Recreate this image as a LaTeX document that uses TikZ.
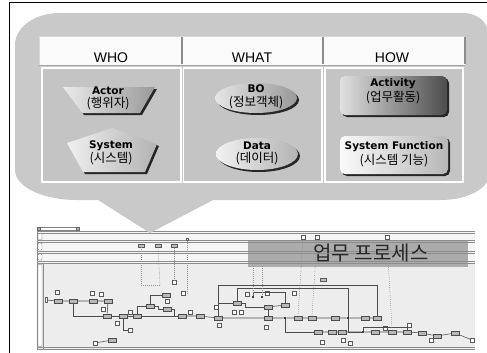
\documentclass[tikz,border=0pt]{standalone}
\usepackage{fontspec}
\setmainfont{DejaVu Sans}
\newfontfamily\hdr{Liberation Sans}
\newfontfamily\kr{Noto Sans CJK KR}
\begin{document}
\begin{tikzpicture}[x=1pt,y=-1pt,
  hd/.style={font=\hdr\fontsize{14}{14}\selectfont, inner sep=0pt},
  en/.style={font=\bfseries\fontsize{10.5}{11}\selectfont, inner sep=0pt},
  ko/.style={font=\kr\fontsize{12.5}{12.5}\selectfont, inner sep=0pt},
  cell/.style={draw=white, line width=1.4pt, fill=black!23},
  pb/.style={draw=black!70, fill=black!28, minimum width=8pt, minimum height=4.5pt, inner sep=0pt, line width=0.5pt},
  pd/.style={draw=black!65, fill=white, minimum width=4pt, minimum height=4pt, inner sep=0pt, line width=0.5pt},
  pdt/.style={circle, fill=black, minimum size=2.2pt, inner sep=0pt},
  tk/.style={draw=black!65, fill=black!25, minimum width=6pt, minimum height=3pt, inner sep=0pt, line width=0.4pt},
  pl/.style={draw=black!70, line width=0.55pt},
  dsh/.style={draw=black!45, line width=0.4pt, dash pattern=on 1pt off 1pt},
  ln/.style={draw=black!45, line width=0.6pt},
  lb/.style={draw=black!55, fill=white, rounded corners=0.8pt, minimum width=4pt, inner sep=0pt, line width=0.4pt}]
\useasboundingbox (0,0) rectangle (487,353);
\fill[white] (0,0) rectangle (487,353);
% ---------- process area ----------
\fill[black!4] (37,231) rectangle (475,263);
\fill[black!7] (37,263) rectangle (475,349);
\fill[black!33] (248,240) rectangle (468,267);
\foreach \yy in {231,233,240,242,251,253,261,263,347,349}
  \draw[ln] (37,\yy) -- (475,\yy);
\draw[ln] (37,231) -- (37,349);
\draw[ln] (43,263) -- (43,349);
\node[draw=black!50, fill=white, minimum width=42pt, minimum height=3pt, inner sep=0pt, line width=0.4pt] (tab) at (58,228.5) {};
\node[draw=black!60, fill=black!30, minimum size=3pt, inner sep=0pt] (tabl) at (38.5,228.5) {};
\node[draw=black!60, fill=black!30, minimum size=3pt, inner sep=0pt] (tabr) at (77.5,228.5) {};
\node[lb, minimum height=6pt] (l1) at (40,236.5) {};
\node[lb, minimum height=7pt] (l2) at (40,246.5) {};
\node[lb, minimum height=6pt] (l3) at (40,257) {};
\node[lb, minimum height=82pt] (l4) at (40,305.5) {};
% top-lane items
\node[tk] (t1) at (141,245.5) {};
\node[tk] (t2) at (158,246) {};
\node[tk] (t3) at (174,246) {};
\node[draw=black!60, fill=white, minimum size=2pt, inner sep=0pt] (t4) at (187,239.5) {};
\node[pd] (u1) at (303,237) {};
\node[pd] (u2) at (317,237) {};
\node[pd] (u3) at (387,237) {};
% main lane nodes
\node[draw=black!60, fill=white, minimum width=2pt, minimum height=5pt, inner sep=0pt] (st) at (46,300) {};
\node[pb] (b1) at (58,301) {};
\node[pb] (b2) at (73,301) {};
\node[pb] (b3) at (93,301) {};
\node[pb] (b4) at (108,301) {};
\node[pd] (d1) at (57,292) {};
\node[pd] (d2) at (92,293) {};
\node[pd] (d3) at (101,294) {};
\node[pd] (d4) at (103,309) {};
\node[pb] (b5) at (107,316) {};
\node[pd] (d5) at (117,323) {};
\node[pb] (b6) at (123,316) {};
\node[pb] (b7) at (137,316) {};
\node[pd] (d6) at (130,312) {};
\node[pb] (b8) at (150,306) {};
\node[pb] (b9) at (166,295) {};
\node[pb] (b10) at (167,309) {};
\node[pd] (d7) at (174,282) {};
\node[pd] (d8) at (167,301) {};
\node[pb] (b11) at (182,316) {};
\node[pd] (d9) at (190,312) {};
\node[pd] (d25) at (183,293) {};
\node[pb] (b12) at (200,316) {};
\node[pb] (b13) at (218,318) {};
\node[pd] (d10) at (216,307) {};
\node[pd] (d11) at (219,325) {};
\node[pb] (b14) at (237,303) {};
\node[pd] (d12) at (234,312) {};
\node[pd] (d13) at (241,312) {};
\node[pdt] (dt1) at (253,297) {};
\node[pdt] (dt2) at (262,297) {};
\node[pd] (d15) at (247,294) {};
\node[pd] (d16) at (267,293) {};
\node[pd] (d17) at (294,293) {};
\node[pb] (b15) at (268,307) {};
\node[pb] (b16) at (285,305) {};
\node[pb] (b17) at (268,318) {};
\node[pd] (d14) at (266,327) {};
\node[pdt] (dt4) at (285,318) {};
\node[pb] (b18) at (298,318) {};
\node[pb] (b19) at (312,318) {};
\node[pb] (b20) at (335,318) {};
\node[pdt] (dt3) at (348,318) {};
\node[pb] (b21) at (365,318) {};
\node[pb] (b22) at (377,318) {};
\node[pb] (b23) at (318,332) {};
\node[pb] (b24) at (332,332) {};
\node[pb] (b25) at (342,332) {};
\node[pd] (d18) at (322,342) {};
\node[pd] (d19) at (343,340) {};
\node[pd] (d20) at (350,343) {};
\node[pdt] (dt5) at (363,332) {};
\node[pb] (b26) at (375,332) {};
\node[pb] (b27) at (392,332) {};
\node[pb] (b28) at (407,332) {};
\node[pb] (b29) at (422,333) {};
\node[pb] (b30) at (437,336) {};
\node[pb] (b31) at (455,333) {};
\node[pd] (d21) at (385,328) {};
\node[pd] (d26) at (409,325) {};
\node[pd] (d27) at (431,340) {};
\node[pd] (en) at (472,340) {};
\node[pb] (b32) at (112,340) {};
\node[pd] (d22) at (95,343) {};
\node[pd] (d24) at (130,330) {};
\node[tk] (lp) at (323,280) {};
\coordinate (c2) at (377,285);
\coordinate (c4) at (348,288);
\coordinate (c5) at (285,292);
\coordinate (c6) at (407,327);
\coordinate (k1) at (160,285);
\coordinate (k2) at (187,294);
\coordinate (k3) at (253,266);
\coordinate (k4) at (262,266);
% connectors
\draw[pl] (st) -- (b1) -- (b2) -- (b3) -- (b4);
\draw[pl] (b4) -- (b5);
\draw[pl] (b2.south) |- (b5.west);
\draw[pl] (b5) -- (b6) -- (b7) -- (b11);
\draw[pl] (b7.north) |- (b8.west);
\draw[pl] (b8.north) |- (b9.west);
\draw[pl] (b8.east) -- ++(4,0) |- (b10.west);
\draw[pl] (b10.east) -- ++(3,0) |- (b11.west);
\draw[pl] (b6.south) |- (d24.west);
\draw[pl] (d22) -- (b32);
\draw[pl] (b11) -- (b12) -- (b13) -- (b17) -- (dt4) -- (b18) -- (b19) -- (b20) -- (dt3) -- (b21) -- (b22);
\draw[pl] (b13.north) |- (b14.west);
\draw[pl] (b13.north) |- (c2) -- (b22.north);
\draw[pl] (b14.north) |- (c4) -- (dt3.north);
\draw[pl] (dt1.north) |- (c5) -- (b16.north);
\draw[pl] (b14.east) -- ++(4,0) |- (b15.west);
\draw[pl] (b15) -- (b16);
\draw[pl] (b15) -- (b17);
\draw[pl] (dt4.south) |- (b23.west);
\draw[pl] (b23) -- (b24) -- (b25) -- (dt5) -- (b26) -- (b27) -- (b28) -- (b29) -- (b30) -- (b31) -- (en);
\draw[pl] (dt3.south) |- (dt5.west);
\draw[pl] (dt5.north) |- (c6) -- (b28.north);
\draw[dsh] (t1.south) |- (k1);
\draw[dsh] (t2.south) -- (k1);
\draw[dsh] (t3.south) -- (d7.north);
\draw[dsh] (t4.south) -- (k2);
\draw[dsh] (k3) -- (dt1);
\draw[dsh] (k4) -- (dt2);
\draw[dsh] (u1.south) -- (b18.north);
\draw[dsh] (u2.south) -- (b19.north);
\draw[dsh] (u3.south) -- (b27.north);
\node[font=\kr\fontsize{20}{20}\selectfont, text=black!85, inner sep=0pt] (ptitle) at (371,253) {업무 프로세스};
% ---------- bubble ----------
\fill[black!21] (60,13) -- (463,13) .. controls (477,13) and (488,22) .. (488,33)
  -- (488,177) .. controls (488,189) and (466,200) .. (441,200) -- (213,200) -- (150,233) -- (98,200)
  -- (77,200) .. controls (43,200) and (15,187) .. (15,170) -- (15,45) .. controls (15,27) and (35,13) .. (60,13) -- cycle;
% header row
\fill[black!2] (39,36) rectangle (465,65);
\draw[black!35, line width=0.8pt] (39,65) -- (465,65);
\draw[black!15, line width=0.6pt] (39,36) -- (465,36) (39,36) -- (39,65);
\draw[black!45, line width=1.3pt] (182,37) -- (182,64) (323,37) -- (323,64) (465,37) -- (465,64);
\node[hd] (who) at (111,58) {WHO};
\node[hd] (what) at (252,58) {WHAT};
\node[hd] (how) at (392,58) {HOW};
% body cells
\draw[cell] (42,68) rectangle (181,182);
\draw[cell] (183.5,68) rectangle (322,182);
\draw[cell] (325,68) rectangle (463,182);
% Actor
\fill[black!85] (65,89) -- (157,89) -- (142,115) -- (84,115) -- cycle;
\shade[left color=black!8, right color=black!40] (63,87) -- (155,87) -- (140,113) -- (82,113) -- cycle;
\node[en] (actor) at (108,90.5) {Actor};
\node[ko] (actork) at (108,104) {(행위자)};
% System
\fill[black!85] (69,145) -- (114,130) -- (159,146) -- (147,174) -- (85,174) -- cycle;
\shade[left color=black!6, right color=black!30] (67,143) -- (112,128) -- (157,144) -- (145,172) -- (83,172) -- cycle;
\node[en] (system) at (111,145.5) {System};
\node[ko] (systemk) at (111,159) {(시스템)};
% BO
\fill[black!85] (258,100) ellipse[x radius=41, y radius=15];
\shade[left color=black!10, right color=black!40] (256,98) ellipse[x radius=41, y radius=15];
\node[en] (bo) at (256,88.5) {BO};
\node[ko] (bok) at (256,102.5) {(정보객체)};
% Data
\fill[black!85] (259,156) ellipse[x radius=41, y radius=16];
\shade[left color=black!5, right color=black!30] (257,154) ellipse[x radius=41, y radius=16];
\node[en] (data) at (257,145.5) {Data};
\node[ko] (datak) at (257,159) {(데이터)};
% Activity
\fill[black!85, rounded corners=5pt] (342,78) rectangle (449,117);
\shade[left color=black!12, right color=black!70, rounded corners=5pt] (340,76) rectangle (447,115);
\node[en] (act) at (393,84) {Activity};
\node[ko] (actk) at (393,97.5) {(업무활동)};
% System Function
\fill[black!85, rounded corners=5pt] (342,138) rectangle (450,176);
\shade[left color=black!2, right color=black!28, rounded corners=5pt] (340,136) rectangle (448,174);
\node[en] (sf) at (394,147) {System Function};
\node[ko] (sfk) at (394,161) {(시스템 기능)};
% frame
\draw[black, line width=0.9pt] (9,353) -- (9,2) -- (487,2);
\end{tikzpicture}
\end{document}
